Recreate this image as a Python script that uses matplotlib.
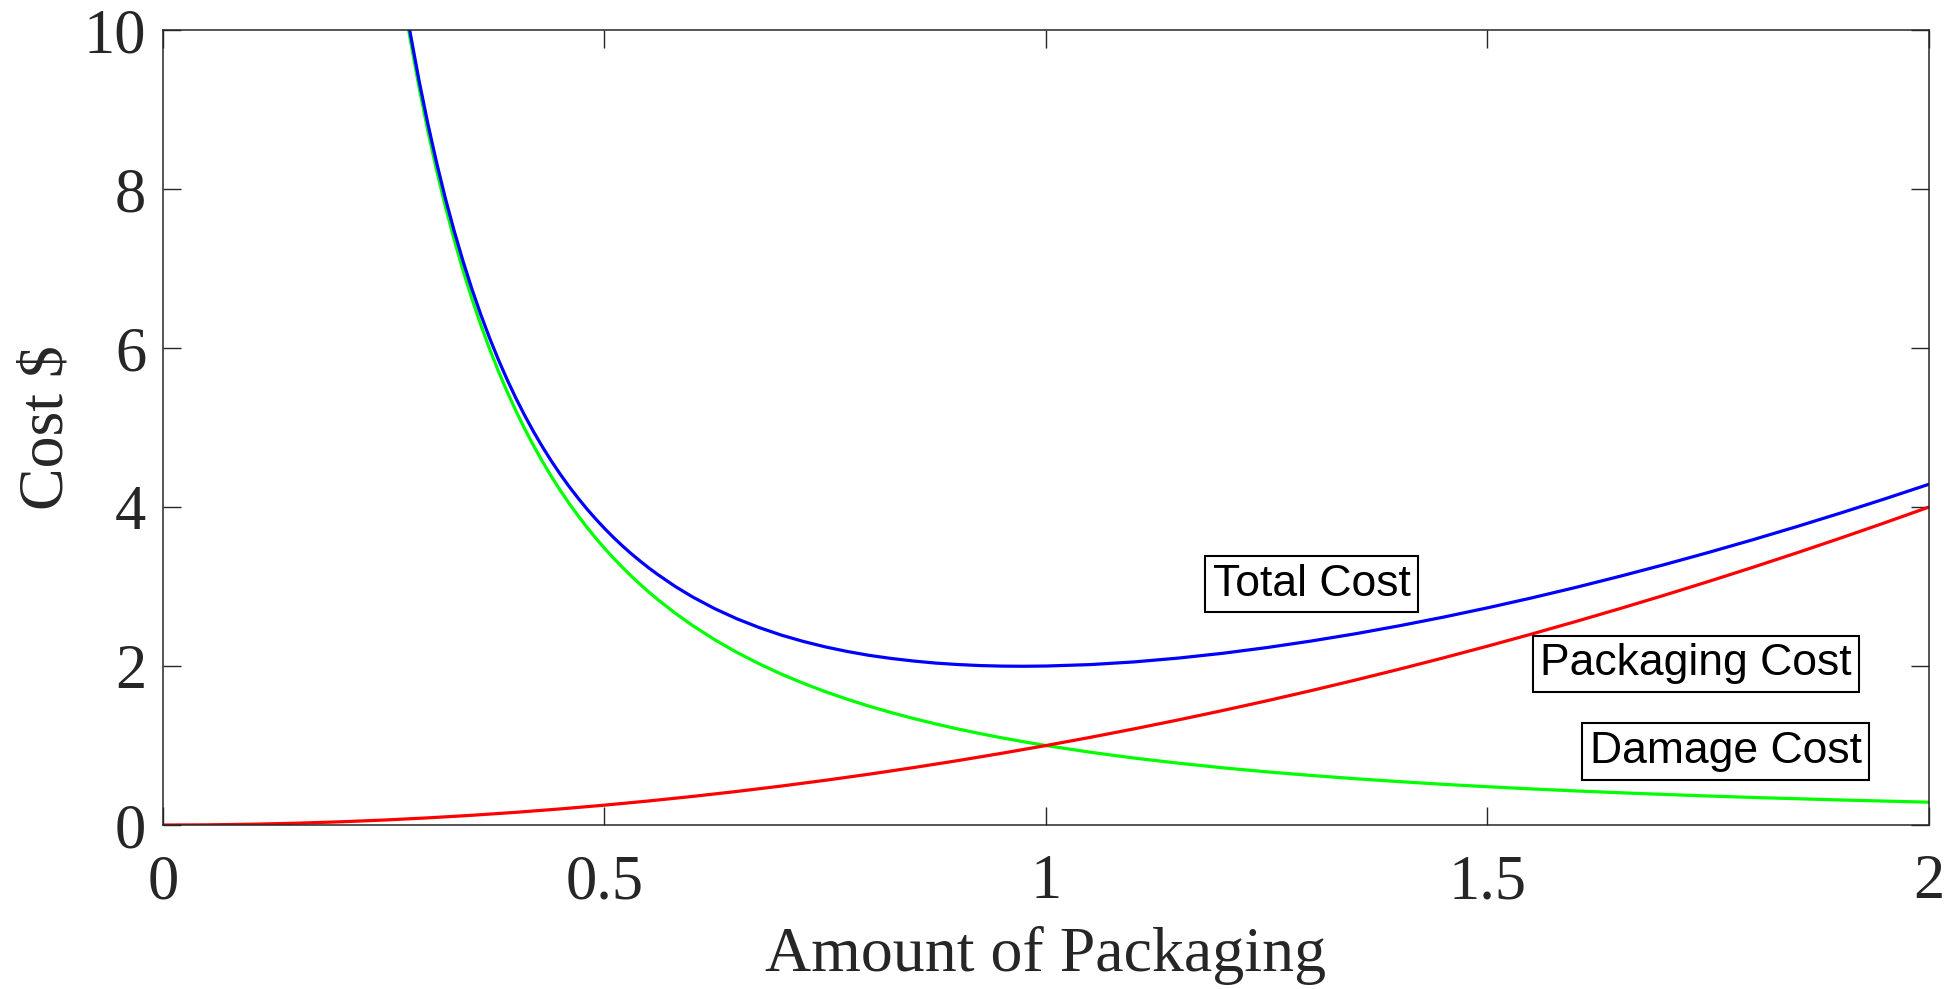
import matplotlib
matplotlib.use('Agg')
import matplotlib.pyplot as plt

# values
pack_x = [0.0, 0.05, 0.1, 0.15, 0.2, 0.25, 0.3, 0.35, 0.4, 0.45, 0.5,
          0.55, 0.6, 0.65, 0.7, 0.75, 0.8, 0.85, 0.9, 0.95, 1.0,
          1.05, 1.1, 1.15, 1.2, 1.25, 1.3, 1.35, 1.4, 1.45, 1.5,
          1.55, 1.6, 1.65, 1.7, 1.75, 1.8, 1.85, 1.9, 1.95, 2.0]
pack_cost = [0.0, 0.0025, 0.01, 0.0225, 0.04, 0.0625, 0.09, 0.1225, 0.16, 0.2025, 0.25,
             0.3025, 0.36, 0.4225, 0.49, 0.5625, 0.64, 0.7225, 0.81, 0.9025, 1.0,
             1.1025, 1.21, 1.3225, 1.44, 1.5625, 1.69, 1.8225, 1.96, 2.1025, 2.25,
             2.4025, 2.56, 2.7225, 2.89, 3.0625, 3.24, 3.4225, 3.61, 3.8025, 4.0]

dmg_x = [0.27, 0.28, 0.29, 0.30, 0.31, 0.32, 0.33, 0.34, 0.35, 0.36,
         0.37, 0.38, 0.39, 0.40, 0.41, 0.42, 0.43, 0.44, 0.45, 0.46,
         0.47, 0.48, 0.49, 0.50, 0.51, 0.52, 0.53, 0.54, 0.55, 0.56,
         0.58, 0.60, 0.625, 0.65, 0.675, 0.70, 0.725, 0.75, 0.775, 0.80,
         0.825, 0.85, 0.875, 0.90, 0.925, 0.95, 0.975, 1.00, 1.05, 1.10,
         1.15, 1.20, 1.25, 1.30, 1.35, 1.40, 1.45, 1.50, 1.55, 1.60,
         1.65, 1.70, 1.75, 1.80, 1.85, 1.90, 1.95, 2.00]
dmg_cost = [10.557, 9.888, 9.283, 8.733, 8.233, 7.775, 7.357, 6.972, 6.617, 6.290,
            5.987, 5.707, 5.446, 5.203, 4.977, 4.766, 4.568, 4.383, 4.209, 4.046,
            3.893, 3.748, 3.611, 3.482, 3.360, 3.245, 3.135, 3.032, 2.933, 2.840,
            2.666, 2.508, 2.330, 2.171, 2.029, 1.900, 1.784, 1.678, 1.582, 1.494,
            1.414, 1.340, 1.272, 1.209, 1.151, 1.097, 1.047, 1.000, 0.916, 0.842,
            0.778, 0.720, 0.669, 0.624, 0.583, 0.546, 0.512, 0.482, 0.454, 0.429,
            0.406, 0.385, 0.365, 0.347, 0.331, 0.315, 0.301, 0.287]
total_cost = [10.630, 9.966, 9.367, 8.823, 8.329, 7.877, 7.466, 7.088, 6.740, 6.420,
              6.124, 5.851, 5.598, 5.363, 5.145, 4.942, 4.753, 4.577, 4.412, 4.258,
              4.114, 3.978, 3.851, 3.732, 3.620, 3.515, 3.416, 3.324, 3.236, 3.154,
              3.002, 2.868, 2.721, 2.594, 2.485, 2.390, 2.310, 2.241, 2.183, 2.134,
              2.095, 2.063, 2.037, 2.019, 2.006, 1.999, 1.997, 2.000, 2.018, 2.052,
              2.100, 2.160, 2.232, 2.314, 2.405, 2.506, 2.615, 2.732, 2.857, 2.989,
              3.129, 3.275, 3.428, 3.587, 3.753, 3.925, 4.103, 4.287]

xticks = [0, 0.5, 1, 1.5, 2]
xticklabels = ['0', '0.5', '1', '1.5', '2']
yticks = [0, 2, 4, 6, 8, 10]

plt.rcParams['font.family'] = ['Liberation Serif', 'DejaVu Serif']

fig = plt.figure(figsize=(19.56, 9.89), dpi=100)
ax = fig.add_axes([0.0833, 0.1658, 0.9029, 0.8038])

ax.plot(dmg_x, dmg_cost, color=(0, 1, 0), lw=2.3)
ax.plot(pack_x, pack_cost, color=(1, 0, 0), lw=2.3)
ax.plot(dmg_x, total_cost, color=(0, 0, 1), lw=2.3)

ax.set_xlim(0, 2)
ax.set_ylim(0, 10)
ax.set_xticks(xticks)
ax.set_xticklabels(xticklabels)
ax.set_yticks(yticks)
ax.tick_params(direction='in', length=13, width=1, colors='#262626',
               labelsize=45, top=True, right=True)
ax.tick_params(axis='x', pad=21)
ax.tick_params(axis='y', pad=12)
for s in ax.spines.values():
    s.set_color('#262626')
    s.set_linewidth(1.1)

ax.set_xlabel('Amount of Packaging', fontsize=46, color='#262626', labelpad=10)
ax.set_ylabel('Cost $', fontsize=46, color='#262626', labelpad=5)

box = dict(boxstyle='square,pad=0.17', facecolor='white', edgecolor='black', lw=1.5)
for lx, ly, txt in [(1.301, 3.03, 'Total Cost'),
                    (1.736, 2.03, 'Packaging Cost'),
                    (1.770, 0.925, 'Damage Cost')]:
    ax.text(lx, ly, txt, fontsize=32, family=['Liberation Sans', 'DejaVu Sans'],
            ha='center', va='center', bbox=box)

fig.savefig('out.png', dpi=100)
